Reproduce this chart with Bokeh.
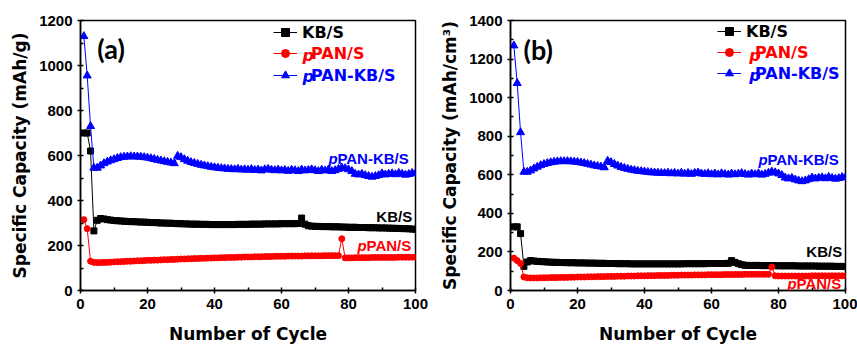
from bokeh.plotting import figure
from bokeh.layouts import row
from bokeh.models import FixedTicker, Label, Legend, LegendItem, Range1d
from bokeh.embed import file_html
from bokeh.resources import INLINE

cycles = list(range(1, 101))

# ---- panel (a): gravimetric capacity, mAh/g ----
a_kb = [700, 700, 620, 265, 312, 320, 318, 315, 313, 311,
        310, 309, 308, 307, 306, 306, 305, 304, 304, 303,
        302, 302, 301, 300, 300, 299, 299, 298, 297, 297,
        296, 296, 295, 295, 295, 294, 294, 294, 293, 293,
        293, 293, 293, 293, 293, 293, 294, 294, 294, 294,
        295, 295, 295, 295, 296, 296, 296, 296, 296, 297,
        297, 297, 297, 297, 298, 322, 295, 288, 286, 285,
        285, 284, 284, 284, 283, 283, 283, 282, 282, 281,
        281, 281, 280, 280, 280, 279, 279, 279, 278, 278,
        278, 277, 277, 276, 276, 275, 275, 274, 273, 272]
a_ppan = [315, 275, 130, 125, 124, 124, 125, 125, 126, 127,
          128, 128, 129, 130, 130, 131, 132, 132, 133, 134,
          134, 135, 135, 136, 137, 137, 138, 138, 139, 140,
          140, 141, 141, 142, 142, 143, 143, 144, 144, 145,
          145, 146, 146, 147, 147, 147, 148, 148, 149, 149,
          149, 150, 150, 150, 151, 151, 151, 152, 152, 152,
          152, 153, 153, 153, 153, 153, 154, 154, 154, 154,
          154, 154, 155, 155, 155, 155, 155, 230, 145, 145,
          145, 146, 146, 146, 146, 146, 147, 147, 147, 147,
          147, 147, 147, 147, 148, 148, 148, 148, 148, 148]
a_ppankb = [1130, 955, 730, 545, 545, 555, 565, 572, 578, 583,
            588, 592, 594, 595, 596, 595, 595, 594, 592, 590,
            587, 584, 580, 577, 574, 571, 568, 565, 598, 592,
            583, 576, 570, 566, 562, 558, 555, 552, 549, 547,
            545, 543, 542, 540, 539, 538, 540, 537, 538, 536,
            539, 535, 537, 533, 538, 540, 536, 534, 537, 533,
            535, 531, 536, 534, 530, 537, 533, 535, 538, 534,
            530, 536, 533, 537, 530, 534, 540, 546, 543, 538,
            530, 518, 515, 518, 512, 508, 505, 508, 512, 520,
            515, 518, 520, 516, 522, 518, 514, 517, 522, 520]

# ---- panel (b): volumetric capacity, mAh/cm3 ----
b_kb = [330, 330, 295, 125, 148, 155, 153, 151, 150, 149,
        148, 147, 146, 146, 145, 145, 144, 144, 144, 143,
        143, 143, 142, 142, 142, 141, 141, 141, 140, 140,
        140, 139, 139, 139, 139, 138, 138, 138, 138, 138,
        138, 138, 138, 138, 138, 138, 138, 138, 138, 138,
        138, 139, 139, 139, 139, 139, 139, 139, 140, 140,
        140, 140, 140, 140, 141, 155, 146, 139, 134, 131,
        130, 130, 130, 130, 129, 129, 129, 129, 129, 128,
        128, 128, 128, 128, 128, 127, 127, 127, 127, 127,
        127, 126, 126, 126, 126, 126, 125, 125, 125, 124]
b_ppan = [168, 155, 140, 70, 66, 65, 65, 65, 66, 66,
          66, 67, 67, 67, 68, 68, 68, 69, 69, 70,
          70, 70, 71, 71, 71, 72, 72, 72, 73, 73,
          73, 74, 74, 74, 75, 75, 75, 76, 76, 76,
          77, 77, 77, 78, 78, 78, 78, 79, 79, 79,
          80, 80, 80, 80, 81, 81, 81, 81, 82, 82,
          82, 82, 82, 83, 83, 83, 83, 83, 83, 84,
          84, 84, 84, 84, 84, 84, 84, 122, 76, 75,
          75, 75, 75, 75, 75, 75, 75, 75, 75, 76,
          76, 76, 76, 76, 76, 76, 76, 76, 76, 76]
b_ppankb = [1270, 1075, 820, 615, 615, 622, 632, 641, 649, 655,
            660, 664, 667, 669, 670, 670, 670, 669, 668, 666,
            663, 660, 656, 652, 648, 645, 642, 638, 672, 665,
            655, 647, 640, 635, 630, 626, 623, 620, 618, 616,
            614, 612, 611, 610, 609, 608, 610, 607, 609, 606,
            610, 605, 608, 604, 609, 611, 606, 604, 607, 602,
            606, 601, 607, 603, 600, 606, 602, 605, 608, 603,
            600, 606, 602, 607, 600, 604, 610, 616, 612, 606,
            598, 585, 580, 583, 575, 570, 566, 570, 576, 585,
            580, 584, 586, 581, 588, 583, 579, 582, 588, 586]

x_ticks = [0, 20, 40, 60, 80, 100]
x_minor = [10, 30, 50, 70, 90]

BOLD_FONT = "Liberation Sans"
AX_FONT = "DejaVu Sans"
BLACK, RED, BLUE = "#000000", "#ff0000", "#0000ff"


def make_panel(kb, ppan, ppankb, ymax, y_label, width, borders, tag, tag_pos,
               leg_x, leg_ys, leg_p_x, leg_p_ys, inline):
    bl, br, bt, bb = borders
    p = figure(width=width, height=346, output_backend="svg", toolbar_location=None,
               x_range=Range1d(0, 100), y_range=Range1d(0, ymax),
               min_border_left=bl, min_border_right=br, min_border_top=bt,
               min_border_bottom=bb)
    p.grid.visible = False
    p.outline_line_color = "black"
    p.outline_line_width = 1.5
    p.outline_line_alpha = 1

    p.xaxis.ticker = FixedTicker(ticks=x_ticks, minor_ticks=x_minor)
    yt = list(range(0, ymax + 1, 200))
    ym = list(range(100, ymax, 200))
    p.yaxis.ticker = FixedTicker(ticks=yt, minor_ticks=ym)
    p.xaxis.axis_label = "Number of Cycle"
    p.yaxis.axis_label = y_label
    for ax in (p.xaxis[0], p.yaxis[0]):
        ax.axis_line_width = 1.5
        ax.major_tick_line_width = 1.5
        ax.minor_tick_line_width = 1.5
        ax.major_tick_out = 3
        ax.major_tick_in = 3
        ax.minor_tick_out = 0
        ax.minor_tick_in = 3
        ax.major_label_text_font = BOLD_FONT
        ax.major_label_text_font_style = "bold"
        ax.major_label_text_font_size = "15px"
        ax.major_label_text_color = "black"
        ax.axis_label_text_font = AX_FONT
        ax.axis_label_text_font_style = "bold"
        ax.axis_label_text_font_size = "17px"
        ax.axis_label_text_color = "black"
        ax.major_label_standoff = 5
    p.xaxis.axis_label_standoff = 12
    p.yaxis.axis_label_standoff = 6

    names = ["KB/S", "PAN/S", "PAN-KB/S"]
    cols = [BLACK, RED, BLUE]
    stand = [5, 14, 14]
    series = ((kb, "square", 6), (ppan, "circle", 6), (ppankb, "triangle", 8))
    for (ys, mk, sz), nm, col, ly, sd in zip(series, names, cols, leg_ys, stand):
        l = p.line(cycles, ys, line_color=col, line_width=1)
        s = p.scatter(cycles, ys, marker=mk, size=sz, fill_color=col, line_color=col)
        leg = Legend(items=[LegendItem(label=nm, renderers=[l, s])],
                     location=(leg_x, ly), orientation="vertical",
                     glyph_width=24, glyph_height=20, label_standoff=sd,
                     label_text_font=AX_FONT, label_text_font_style="bold",
                     label_text_font_size="16px", label_text_color=col,
                     label_height=20, padding=0, margin=0, spacing=0,
                     border_line_alpha=0, background_fill_alpha=0)
        p.add_layout(leg)
    for py, col in zip(leg_p_ys, [RED, BLUE]):
        p.add_layout(Label(x=leg_p_x, y=py, text="p", text_font=AX_FONT,
                           text_font_style="bold italic", text_font_size="16px",
                           text_color=col, text_baseline="middle", text_align="left"))

    # panel tag
    p.add_layout(Label(x=tag_pos[0], y=tag_pos[1], text=tag, text_font="Lato",
                       text_font_style="bold", text_font_size="27px",
                       text_color="black", text_baseline="middle", text_align="left"))

    # inline curve labels
    (px1, py1), (ky,), (px2, py2) = inline
    p.add_layout(Label(x=px1, y=py1, text="p", text_font=BOLD_FONT,
                       text_font_style="bold italic", text_font_size="15px",
                       text_color=BLUE, text_baseline="middle"))
    p.add_layout(Label(x=px1, y=py1, x_offset=9, text="PAN-KB/S", text_font=BOLD_FONT,
                       text_font_style="bold", text_font_size="15px",
                       text_color=BLUE, text_baseline="middle"))
    p.add_layout(Label(x=99, y=ky, text="KB/S", text_font=BOLD_FONT,
                       text_font_style="bold", text_font_size="15px",
                       text_color=BLACK, text_baseline="middle", text_align="right"))
    p.add_layout(Label(x=px2, y=py2, text="p", text_font=BOLD_FONT,
                       text_font_style="bold italic", text_font_size="15px",
                       text_color=RED, text_baseline="middle"))
    p.add_layout(Label(x=px2, y=py2, x_offset=9, text="PAN/S", text_font=BOLD_FONT,
                       text_font_style="bold", text_font_size="15px",
                       text_color=RED, text_baseline="middle"))
    return p


pa = make_panel(a_kb, a_ppan, a_ppankb, 1200, "Specific Capacity (mAh/g)", 430,
                (80, 15, 20, 54), "(a)", (5.0, 1076),
                193, [248, 227, 205], 66.3, [1046, 949],
                ((74, 587), (331,), (82.7, 198)))
pb = make_panel(b_kb, b_ppan, b_ppankb, 1400, "Specific Capacity (mAh/cm³)", 427,
                (80, 12, 18, 55), "(b)", (3.9, 1251),
                207, [249, 228, 207], 71.3, [1220, 1113],
                ((74, 677), (200,), (82.7, 35)))

layout = row(pa, pb)
open("out.html", "w").write(file_html(layout, INLINE))
